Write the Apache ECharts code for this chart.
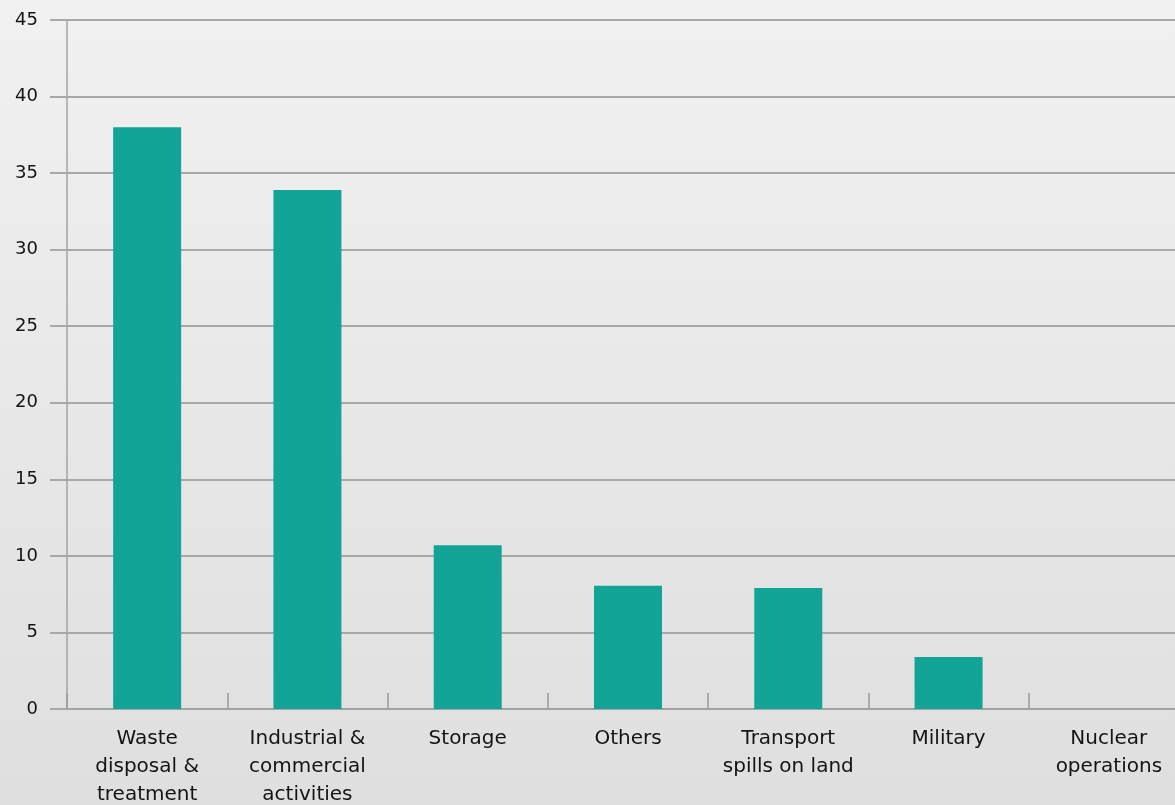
<!DOCTYPE html>
<html>
<head>
<meta charset="utf-8">
<script src="https://cdn.jsdelivr.net/npm/echarts@6/dist/echarts.min.js"></script>
<style>
  html, body { margin: 0; padding: 0; }
  #chart { width: 1175px; height: 805px; }
</style>
</head>
<body>
<div id="chart"></div>
<script>
// categories and values
const categories = [
  'Waste\ndisposal &\ntreatment',
  'Industrial &\ncommercial\nactivities',
  'Storage',
  'Others',
  'Transport\nspills on land',
  'Military',
  'Nuclear\noperations'
]
const values = [38, 33.9, 10.7, 8.05, 7.9, 3.4, 0]
const yTicks = { min: 0, max: 45, step: 5 }

const myChart = echarts.init(document.getElementById('chart'))
const option = {
  backgroundColor: {
    type: 'linear', x: 0, y: 0, x2: 0, y2: 1,
    colorStops: [
      { offset: 0, color: '#f1f1f1' },
      { offset: 1, color: '#dfdfdf' }
    ]
  },
  textStyle: { fontFamily: 'DejaVu Sans' },
  grid: {
    left: 67,
    top: 20,
    bottom: 96,
    width: 1122,
    outerBoundsMode: 'none'
  },
  xAxis: {
    type: 'category',
    data: categories,
    axisLine: { // 轴线
      show: true,
      lineStyle: { color: '#a3a3a3', width: 2 }
    },
    axisTick: { // 刻度
      show: true,
      inside: true,
      interval: 0,
      length: 16,
      lineStyle: { color: '#9a9a9a', width: 1.5 }
    },
    axisLabel: {
      interval: 0,
      hideOverlap: false,
      color: '#141414',
      fontSize: 20,
      lineHeight: 28,
      margin: 16
    }
  },
  yAxis: {
    type: 'value',
    min: yTicks.min,
    max: yTicks.max,
    interval: yTicks.step,
    axisLine: {
      show: true,
      lineStyle: { color: '#a3a3a3', width: 1.5 }
    },
    axisTick: {
      show: true,
      length: 17,
      lineStyle: { color: '#a8a8a8', width: 2 }
    },
    axisLabel: {
      color: '#141414',
      fontSize: 18,
      margin: 29
    },
    splitLine: { // 分割线
      show: true,
      lineStyle: { color: '#a8a8a8', width: 2 }
    }
  },
  series: [
    {
      type: 'bar',
      data: values,
      barWidth: 68,
      itemStyle: {
        color: '#12a597'
      }
    }
  ]
}
myChart.setOption(option)
</script>
</body>
</html>
